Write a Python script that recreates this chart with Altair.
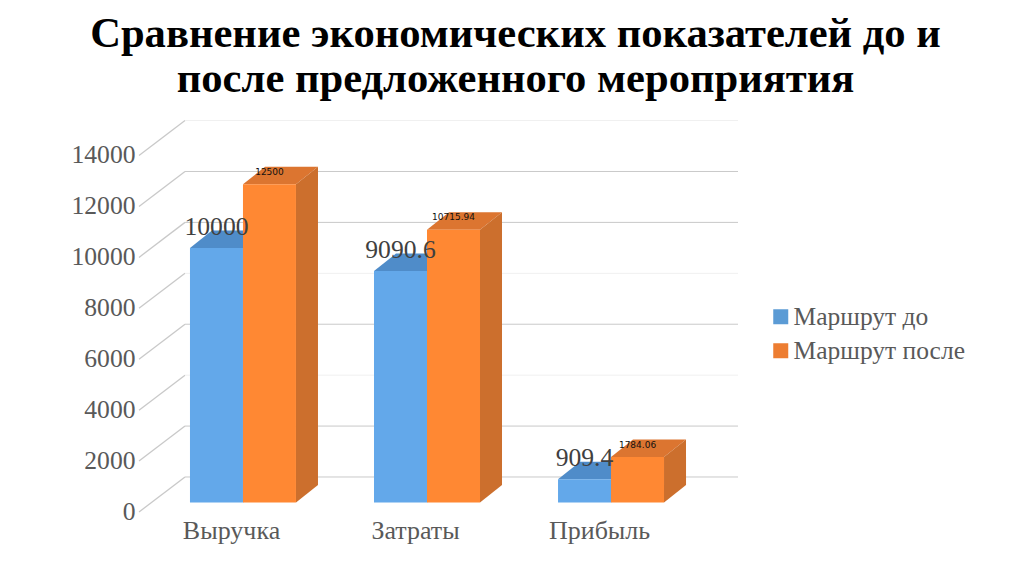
import altair as alt
import pandas as pd

categories = ["Выручка", "Затраты", "Прибыль"]
before = [10000, 9090.6, 909.4]
after = [12500, 10715.94, 1784.06]
before_labels = ["10000", "9090.6", "909.4"]
after_labels = ["12500", "10715.94", "1784.06"]
series_names = ["Маршрут до", "Маршрут после"]
ticks = [0, 2000, 4000, 6000, 8000, 10000, 12000, 14000]
strong_ticks = [0, 2000, 6000, 10000, 12000]
faint_ticks = [4000, 8000, 14000]
title_lines = ["Сравнение экономических показателей до и", "после предложенного мероприятия"]

# oblique projection, in scale units
K = 0.02546               # px per value
FRONT = -373              # wall front edge relative to the bar base
BACK = 1002               # wall back edge relative to the bar base
BAR_DY = 687              # bar depth in value units
BAR_DX = 0.1196           # bar depth in category units
BAR_W = 0.288             # bar width in category units
X_MIN, X_MAX = -0.565, 2.69
WALL_X = -0.315
Y_MIN = FRONT
Y_MAX = FRONT + 391 / K
LABEL_SHIFT = 0.065

x_scale = alt.Scale(domain=[X_MIN, X_MAX], nice=False, zero=False)
y_scale = alt.Scale(domain=[Y_MIN, Y_MAX], nice=False, zero=False)
X = lambda **k: alt.X("x:Q", scale=x_scale, title=None, **k)
Y = lambda **k: alt.Y("y:Q", scale=y_scale, title=None, **k)
SERIF = "Liberation Serif"
GREY = "#595959"

x_axis = alt.Axis(
    values=[round(i - LABEL_SHIFT, 3) for i in range(len(categories))],
    labelExpr="{'-0.065':'%s','0.935':'%s','1.935':'%s'}[toString(datum.value)]" % tuple(categories),
    domain=False, ticks=False, grid=False, labelFont=SERIF, labelFontSize=26,
    labelColor=GREY, labelPadding=5, labelAngle=0,
)
y_axis = alt.Axis(
    values=[t + FRONT for t in ticks],
    labelExpr="format(datum.value + 373, 'd')",
    domain=False, ticks=False, grid=False, labelFont=SERIF, labelFontSize=25.6,
    labelColor=GREY, labelPadding=4, labelOffset=-1,
)

# walls
diag_rows = []
for t in ticks:
    diag_rows.append({"t": t, "x": X_MIN, "y": t + FRONT})
    diag_rows.append({"t": t, "x": WALL_X, "y": t + BACK})
diagonals = alt.Chart(pd.DataFrame(diag_rows)).mark_line(color="#c9c9c9", strokeWidth=1.3).encode(
    x=X(axis=x_axis), y=Y(axis=y_axis), detail="t:N"
)

def grid(vals, color):
    df = pd.DataFrame({"y": [t + BACK for t in vals], "x": [WALL_X] * len(vals), "x2": [X_MAX] * len(vals)})
    return alt.Chart(df).mark_rule(color=color, strokeWidth=1).encode(x=X(), x2="x2:Q", y=Y())

grid_strong = grid(strong_ticks, "#c9c9c9")
grid_faint = grid(faint_ticks, "#f0f0f0")

def faces(values, offset):
    top, side, front = [], [], []
    for i, v in enumerate(values):
        l = i + offset
        r = l + BAR_W
        top += [
            {"b": i, "x": l, "y": v, "y2": v},
            {"b": i, "x": l + BAR_DX, "y": v, "y2": v + BAR_DY},
            {"b": i, "x": r, "y": v, "y2": v + BAR_DY},
            {"b": i, "x": r + BAR_DX, "y": v + BAR_DY, "y2": v + BAR_DY},
        ]
        side += [
            {"b": i, "x": r, "y": v, "y2": 0},
            {"b": i, "x": r + BAR_DX, "y": v + BAR_DY, "y2": BAR_DY},
        ]
        front.append({"x": l, "x2": r, "y": v, "y2": 0})
    return pd.DataFrame(top), pd.DataFrame(side), pd.DataFrame(front)

def bar3d(values, offset, front_c, top_c, side_c):
    t, s, f = faces(values, offset)
    return [
        alt.Chart(t).mark_area(color=top_c, opacity=1).encode(x=X(), y=Y(), y2="y2:Q", detail="b:N"),
        alt.Chart(s).mark_area(color=side_c, opacity=1).encode(x=X(), y=Y(), y2="y2:Q", detail="b:N"),
        alt.Chart(f).mark_rect(color=front_c).encode(x=X(), x2="x2:Q", y=Y(), y2="y2:Q"),
    ]

blue = bar3d(before, -BAR_W, "#63A8EA", "#4F8CC9", "#4F8CC9")
orange = bar3d(after, 0, "#FF8833", "#DC7530", "#CC6F2D")

blue_text = pd.DataFrame({"x": [i - BAR_W / 2 for i in range(3)], "y": before, "t": before_labels})
orange_text = pd.DataFrame({"x": [i + BAR_W / 2 for i in range(3)], "y": after, "t": after_labels})
blue_lab = alt.Chart(blue_text).mark_text(font=SERIF, fontSize=25.6, color="#404040", dy=-21, baseline="middle").encode(x=X(), y=Y(), text="t:N")
orange_lab = alt.Chart(orange_text).mark_text(font="DejaVu Sans", fontSize=9, color="#111111", dy=-12.5, baseline="middle").encode(x=X(), y=Y(), text="t:N")

# legend carrier
leg_df = pd.DataFrame({"x": [0, 0], "y": [0, 0], "s": series_names})
legend = alt.Chart(leg_df).mark_point(size=0, filled=True, opacity=0).encode(
    x=X(), y=Y(),
    color=alt.Color("s:N", title=None,
        scale=alt.Scale(domain=series_names, range=["#5B9BD5", "#ED7D31"]),
        legend=alt.Legend(orient="none", legendX=629, legendY=183, symbolType="square",
                          symbolSize=225, symbolOpacity=1, labelFont=SERIF, labelFontSize=25.5,
                          labelColor=GREY, rowPadding=7, labelOffset=0, symbolStrokeWidth=0,
                          padding=0, labelLimit=300)),
)

chart = alt.layer(
    diagonals, grid_strong, grid_faint, *blue, *orange, blue_lab, orange_lab, legend
).properties(
    width=599, height=391,
    autosize=alt.AutoSizeParams(type="none"),
    padding={"left": 131, "top": 113, "right": 278, "bottom": 56},
    title=alt.TitleParams(title_lines, font=SERIF, fontSize=42.6, fontWeight="bold", color="#000000",
                          anchor="middle", dx=77, offset=17.5, lineHeight=45),
).configure_view(stroke=None)

chart.save("out.html", embed_options={"renderer": "svg", "actions": False})
